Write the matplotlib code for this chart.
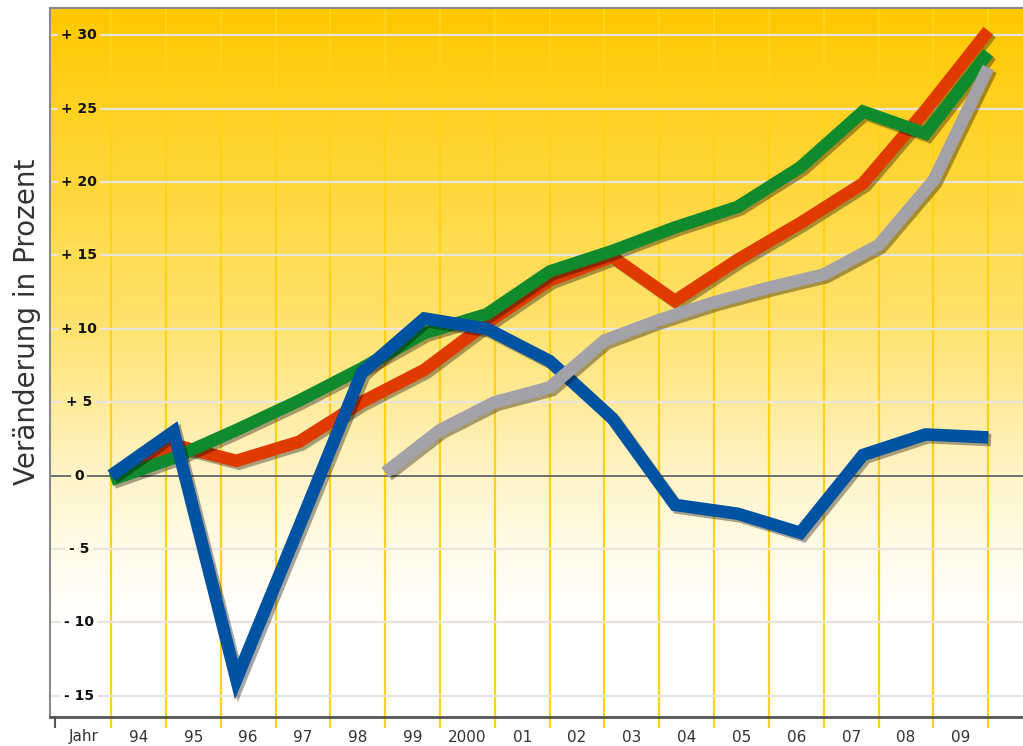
import numpy as np
import matplotlib.pyplot as plt
import matplotlib.patheffects as pe
from matplotlib.colors import LinearSegmentedColormap

# Beschriftung der x-Achse (Jahre)
jahre = ['94', '95', '96', '97', '98', '99', '2000', '01', '02', '03',
         '04', '05', '06', '07', '08', '09']

# Veränderung in Prozent, 15 Punkte je Linie (über die ganze Breite verteilt)
blau = [0, 3.0, -13.9, -3.5, 7.0, 10.7, 10.0, 7.8, 3.9, -2.0, -2.6, -3.9, 1.4, 2.8, 2.6]
rot = [0, 2.1, 1.0, 2.3, 5.0, 7.2, 10.4, 13.3, 14.9, 11.9, 14.7, 17.2, 19.9, 24.9, 30.3]
gruen = [-0.3, 1.2, 3.1, 5.1, 7.3, 9.7, 11.0, 13.9, 15.3, 16.9, 18.3, 21.0, 24.8, 23.3, 28.8]

# graue Linie beginnt erst beim 6. Gitterstrich, ein Punkt je Gitterstrich
grau_start = 5
grau = [0.2, 3.1, 5.0, 6.0, 9.2, 10.6, 11.8, 12.8, 13.7, 15.7, 20.1, 27.8]

y_ticks = [-15, -10, -5, 0, 5, 10, 15, 20, 25, 30]

# Figur und Achse (Pixelmaße des Originals)
fig = plt.figure(figsize=(10.23, 7.46), dpi=100)
ax = fig.add_axes([50 / 1023, 1 - 717 / 746, 973 / 1023, 709 / 746])

x0, x1 = -1.113, 16.633
y0, y1 = -16.45, 31.85
ax.set_xlim(x0, x1)
ax.set_ylim(y0, y1)

# Hintergrund: Verlauf von Gelb (oben) nach Weiß (unten)
stops = [(0.0, '#ffffff'), (0.13, '#ffffff'), (0.22, '#fffcec'),
         (0.34, '#fff4c8'), (0.45, '#ffeb98'), (0.56, '#ffe26c'),
         (0.76, '#ffd73a'), (1.0, '#ffc800')]
cmap = LinearSegmentedColormap.from_list('hintergrund', stops)
verlauf = np.linspace(0, 1, 512).reshape(-1, 1)
ax.imshow(verlauf, extent=[x0, x1, y0, y1], origin='lower', aspect='auto',
          cmap=cmap, zorder=0, interpolation='bilinear')

# vertikale gelbe Gitterlinien (ragen unten etwas heraus)
vl = ax.vlines(np.arange(len(jahre) + 1), y0 - 0.75, y1, colors='#ffd21a',
               lw=1.6, zorder=1)
vl.set_clip_on(False)

# horizontale Gitterlinien
for v in y_ticks:
    if v == 0:
        ax.axhline(0, color='#6e6e6e', lw=1.4, zorder=1)
    else:
        ax.axhline(v, color='#e8e4dc', lw=1.6, zorder=1)

# y-Beschriftung innerhalb der Achse, mit Lücke in der Gitterlinie
for v in y_ticks:
    if v > 0:
        txt = f'+ {v}'
    elif v < 0:
        txt = f'- {abs(v)}'
    else:
        txt = '0'
    frac = (v - y0) / (y1 - y0)
    ax.text(0.0298, v, txt, transform=ax.get_yaxis_transform(),
            ha='center', va='center', fontsize=10, fontweight='bold',
            color='#111111', zorder=2,
            bbox=dict(boxstyle='square,pad=0.25', fc=cmap(frac), ec='none'))


def linie(x, y, farbe, z):
    ax.plot(x, y, color=farbe, lw=9, solid_joinstyle='miter',
            solid_capstyle='butt', zorder=z,
            path_effects=[pe.SimpleLineShadow(offset=(2, -2), shadow_color='black',
                                              alpha=0.35),
                          pe.Normal()])


x_haupt = np.linspace(0, len(jahre), len(blau))
x_grau = np.arange(grau_start, grau_start + len(grau))

linie(x_haupt, rot, '#e03a00', 3)
linie(x_haupt, gruen, '#0f8a2c', 4)
linie(x_haupt, blau, '#0052a2', 5)
linie(x_grau, grau, '#a2a2a8', 6)

# x-Achse: Beschriftung mittig zwischen den Gitterlinien
ax.set_xticks(np.arange(-1, len(jahre)) + 0.5)
ax.set_xticklabels(['Jahr'] + jahre, fontsize=11, color='#333333')
ax.tick_params(axis='x', length=0, pad=9)
ax.set_yticks([])

# kleiner Strich links unten
ax.plot([-1.02, -1.02], [y0, y0 - 0.7], color='#555555', lw=1.5, clip_on=False)

# Rahmen
ax.spines['right'].set_visible(False)
ax.spines['left'].set_color('#8a8a8a')
ax.spines['left'].set_linewidth(1.5)
ax.spines['top'].set_color('#8a8a8a')
ax.spines['top'].set_linewidth(1.5)
ax.spines['bottom'].set_color('#555555')
ax.spines['bottom'].set_linewidth(2)

fig.text(27 / 1023, 1 - 322 / 746, 'Veränderung in Prozent', rotation=90,
         ha='center', va='center', fontsize=20, color='#333333')

plt.savefig('out.png', dpi=100)
